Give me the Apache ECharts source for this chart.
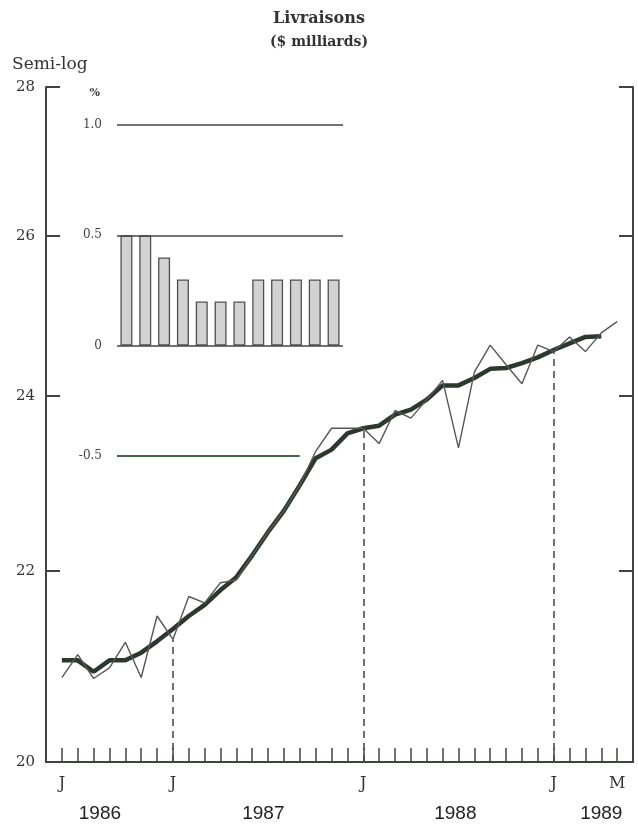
<!DOCTYPE html>
<html><head><meta charset="utf-8">
<script src="https://cdn.jsdelivr.net/npm/echarts@6/dist/echarts.min.js"></script>
<style>html,body{margin:0;padding:0;background:#fff}#c{width:638px;height:825px}</style>
</head><body><div id="c"></div>
<script>
// Month index: 0 = May 1986 ... 37 = June 1989
const monthIndex = [1,2,3,4,5,6,7,8,9,10,11,12,13,14,15,16,17,18,19,20,21,22,23,24,25,26,27,28,29,30,31,32,33,34,35,36];
const monthly = [20.86,21.10,20.85,20.96,21.23,20.86,21.51,21.26,21.72,21.65,21.87,21.90,22.17,22.43,22.67,22.96,23.35,23.62,23.62,23.62,23.44,23.83,23.74,23.96,24.19,23.39,24.29,24.62,24.38,24.15,24.62,24.54,24.72,24.54,24.77,24.91];
const trendIndex = [1,2,3,4,5,6,7,8,9,10,11,12,13,14,15,16,17,18,19,20,21,22,23,24,25,26,27,28,29,30,31,32,33,34,35];
const trend = [21.04,21.04,20.92,21.04,21.04,21.12,21.24,21.37,21.51,21.63,21.79,21.93,22.17,22.43,22.67,22.96,23.27,23.37,23.56,23.62,23.65,23.78,23.84,23.96,24.13,24.13,24.22,24.33,24.34,24.40,24.47,24.56,24.64,24.72,24.73];
const yTicks = [20,22,24,26,28];
const xLabelMonths = [1,8,20,32,36];
const xLabelText = ['J','J','J','J','M'];
const januaryMonths = [8,20,32];
const years = ['1986','1987','1988','1989'];
const yearPos = [3.4,13.7,25.8,35];
const insetValues = [0.5,0.5,0.4,0.3,0.2,0.2,0.2,0.3,0.3,0.3,0.3,0.3];

const ln = Math.log;
const serif = 'DejaVu Serif';
function nearestIdx(arr, v){let b=0,d=1e9;arr.forEach((a,i)=>{if(Math.abs(a-v)<d){d=Math.abs(a-v);b=i;}});return b;}

const chart = echarts.init(document.getElementById('c'));
function mainYAxis(pos, showLabel){
  return {
    type:'value', gridIndex:0, position:pos,
    min:ln(yTicks[0]), max:ln(yTicks[yTicks.length-1]),
    axisLine:{show:true, onZero:false, lineStyle:{color:'#3f443f', width:2}},
    axisTick:{show:true, inside:true, length:14, customValues:yTicks.map(ln), lineStyle:{color:'#3f443f', width:2}},
    splitLine:{show:false},
    axisLabel: showLabel ? {customValues:yTicks.map(ln), formatter:v=>String(Math.round(Math.exp(v))),
                 fontFamily:serif, fontSize:15, color:'#333', margin:11} : {show:false}
  };
}
chart.setOption({
  animation:false,
  backgroundColor:'#fff',
  title:[
    {text:'Livraisons', subtext:'($ milliards)', left:'center', top:6, itemGap:8,
     textStyle:{fontFamily:serif, fontSize:16, fontWeight:'bold', color:'#333'},
     subtextStyle:{fontFamily:serif, fontSize:14, fontWeight:'bold', color:'#333'}},
    {text:'Semi-log', left:7, top:51, textStyle:{fontFamily:serif, fontSize:17, fontWeight:'normal', color:'#333'}}
  ],
  grid:[
    {left:46, right:5, top:87, bottom:63},
    {left:117, right:295, top:125, bottom:369}
  ],
  xAxis:[
    {type:'value', gridIndex:0, min:0, max:37, interval:1,
     axisLine:{onZero:false, lineStyle:{color:'#3a4a3a', width:2}},
     axisTick:{inside:true, length:14, lineStyle:{color:'#444', width:1.5}},
     axisLabel:{customValues:xLabelMonths, formatter:v=>xLabelText[nearestIdx(xLabelMonths,v)],
                fontFamily:serif, fontSize:16, color:'#333', margin:14},
     splitLine:{show:false}},
    {type:'value', gridIndex:0, position:'bottom', offset:33, min:0, max:37,
     axisLine:{show:false, onZero:false}, axisTick:{show:false}, splitLine:{show:false},
     axisLabel:{customValues:yearPos, formatter:v=>years[nearestIdx(yearPos,v)],
                fontFamily:'Liberation Sans', fontSize:19, color:'#222', margin:9}},
    {type:'value', gridIndex:1, min:0, max:12, show:false}
  ],
  yAxis:[
    mainYAxis('left', true),
    mainYAxis('right', false),
    {type:'value', gridIndex:1, min:-0.5, max:1.0, interval:0.5,
     axisLine:{show:false}, axisTick:{show:false}, splitLine:{show:false},
     axisLabel:{formatter:v=>v===0?'0':v.toFixed(1), fontFamily:serif, fontSize:12, color:'#444', margin:15},
     name:'%', nameLocation:'end', nameGap:26,
     nameTextStyle:{fontFamily:serif, fontSize:11, fontWeight:'bold', color:'#444', align:'right', padding:[0,17,0,0]}}
  ],
  series:[
    {type:'bar', xAxisIndex:2, yAxisIndex:2, barWidth:12,
     data:insetValues.map((v,i)=>[i+0.5, v]),
     itemStyle:{color:'#d2d2d2', borderColor:'#505050', borderWidth:1.3},
     markLine:{silent:true, symbol:['none','none'], label:{show:false},
       lineStyle:{color:'#444', width:1.6, type:'solid'},
       data:[
         {yAxis:1.0},
         {yAxis:0.5},
         {yAxis:0},
         [{coord:[0,-0.5], lineStyle:{color:'#3f6b3f', width:1.8, type:'solid'}},{coord:[9.7,-0.5]}]
       ]}},
    {type:'line', xAxisIndex:0, yAxisIndex:0, symbol:'none', z:3,
     data:trendIndex.map((m,i)=>[m, ln(trend[i])]),
     lineStyle:{color:'#2c382e', width:4.5}},
    {type:'line', xAxisIndex:0, yAxisIndex:0, symbol:'none', z:4,
     data:monthIndex.map((m,i)=>[m, ln(monthly[i])]),
     lineStyle:{color:'#575757', width:1.4},
     markLine:{silent:true, symbol:['none','none'], label:{show:false},
       lineStyle:{color:'#444', width:1.5, type:[7,5]},
       data:januaryMonths.map(m=>[{coord:[m, ln(yTicks[0])]},{coord:[m, ln(monthly[monthIndex.indexOf(m)])]}])}}
  ]
});
</script>
</body></html>
